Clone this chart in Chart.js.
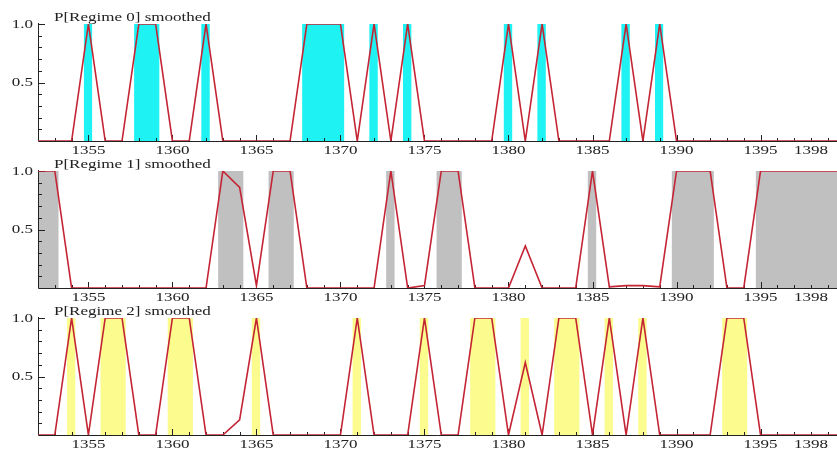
<!DOCTYPE html>
<html>
<head>
<meta charset="utf-8">
<script src="https://cdn.jsdelivr.net/npm/chart.js@4.4.1/dist/chart.umd.min.js"></script>
<style>
  html, body { margin: 0; padding: 0; background: #ffffff; }
  #wrap { position: relative; width: 837px; height: 451px; overflow: hidden; }
  #wrap canvas { position: absolute; left: 0; }
</style>
</head>
<body>
<div id="wrap">
  <canvas id="panel0" width="837" height="158" style="top:0px"></canvas>
  <canvas id="panel1" width="837" height="158" style="top:147px"></canvas>
  <canvas id="panel2" width="837" height="158" style="top:294px"></canvas>
</div>
<script>
// Probabilidades suavizadas de cada régimen, leídas año por año
const years = [1352, 1353, 1354, 1355, 1356, 1357, 1358, 1359, 1360, 1361,
               1362, 1363, 1364, 1365, 1366, 1367, 1368, 1369, 1370, 1371,
               1372, 1373, 1374, 1375, 1376, 1377, 1378, 1379, 1380, 1381,
               1382, 1383, 1384, 1385, 1386, 1387, 1388, 1389, 1390, 1391,
               1392, 1393, 1394, 1395, 1396, 1397, 1398, 1399, 1400];

const regime0 = [0, 0, 0, 1, 0, 0, 1, 1, 0, 0,
                 1, 0, 0, 0, 0, 0, 1, 1, 1, 0,
                 1, 0, 1, 0, 0, 0, 0, 0, 1, 0,
                 1, 0, 0, 0, 0, 1, 0, 1, 0, 0,
                 0, 0, 0, 0, 0, 0, 0, 0, 0];

const regime1 = [1, 1, 0, 0, 0, 0, 0, 0, 0, 0,
                 0, 1, 0.86, 0.02, 1, 1, 0, 0, 0, 0,
                 0, 1, 0, 0.02, 1, 1, 0, 0, 0, 0.36,
                 0, 0, 0, 1, 0.01, 0.02, 0.02, 0.01, 1, 1,
                 1, 0, 0, 1, 1, 1, 1, 1, 1];

const regime2 = [0, 0, 1, 0, 1, 1, 0, 0, 1, 1,
                 0, 0, 0.13, 1, 0, 0, 0, 0, 0, 1,
                 0, 0, 0, 1, 0, 0, 1, 1, 0, 0.62,
                 0, 1, 1, 0, 1, 0, 1, 0, 0, 0,
                 0, 1, 1, 0, 0, 0, 0, 0, 0];

const xTickLabels = [1355, 1360, 1365, 1370, 1375, 1380, 1385, 1390, 1395, 1398];
const yTickLabels = [0.5, 1.0];
const panelTitles = ['P[Regime 0] smoothed', 'P[Regime 1] smoothed', 'P[Regime 2] smoothed'];

const regimes = [regime0, regime1, regime2];
const shadeColors = ['#1ff2f2', '#c0c0c0', '#fbfb8e'];
const lineColor = '#c42434';
const inkColor = '#222222';
const FONT = '13.5px "Liberation Serif", "DejaVu Serif", serif';
const STRETCH = 1.26;   // las letras del original salen estiradas en horizontal

// Franja sombreada: alrededor de cada año en que el régimen es el más probable
const SHADE_BEFORE = 0.28;
const SHADE_AFTER = 0.22;

function isDominant(r, i) {
    const v = regimes[r][i];
    return regimes.every((arr, k) => k === r || arr[i] < v);
}

function shadePoints(r) {
    const pts = [];
    let runStart = null;
    for (let i = 0; i < years.length; i++) {
        const dom = isDominant(r, i);
        if (dom && runStart === null) runStart = years[i];
        const closes = runStart !== null && (!dom || i === years.length - 1);
        if (closes) {
            const runEnd = dom ? years[i] : years[i - 1];
            pts.push({x: runStart - SHADE_BEFORE, y: 0});
            pts.push({x: runStart - SHADE_BEFORE, y: 1});
            pts.push({x: runEnd + SHADE_AFTER, y: 1});
            pts.push({x: runEnd + SHADE_AFTER, y: 0});
            runStart = null;
        }
    }
    return pts;
}

function stretchedText(ctx, text, x, y, align) {
    ctx.save();
    ctx.translate(x, y);
    ctx.scale(STRETCH, 1);
    ctx.textAlign = align;
    ctx.fillText(text, 0, 0);
    ctx.restore();
}

// Ejes, marcas y textos al estilo del original (marcas hacia dentro)
const frameTicks = {
    id: 'frameTicks',
    beforeDatasetDraw(chart, args) {
        if (args.index !== 0) return;
        const {ctx, chartArea: {left, right, top, bottom}, scales: {x, y}} = chart;
        ctx.save();
        ctx.strokeStyle = inkColor;
        ctx.lineWidth = 1;
        ctx.beginPath();
        ctx.moveTo(left + 0.5, top - 1);
        ctx.lineTo(left + 0.5, bottom + 0.5);
        ctx.lineTo(right, bottom + 0.5);
        // marcas del eje y cada 0.1
        for (let k = 1; k <= 10; k++) {
            const py = Math.round(y.getPixelForValue(k / 10)) + 0.5;
            const len = (k === 5 || k === 10) ? 7 : 4;
            ctx.moveTo(left, py);
            ctx.lineTo(left + len, py);
        }
        // marcas del eje x cada año
        for (let yr = Math.ceil(x.min); yr <= x.max; yr++) {
            const px = Math.round(x.getPixelForValue(yr)) + 0.5;
            const len = (yr % 5 === 0) ? 6 : 3;
            ctx.moveTo(px, bottom);
            ctx.lineTo(px, bottom - len);
        }
        ctx.stroke();
        ctx.restore();
    },
    afterDraw(chart, args, opts) {
        const {ctx, chartArea: {left, top, bottom}, scales: {x, y}} = chart;
        ctx.save();
        ctx.fillStyle = inkColor;
        ctx.font = FONT;
        ctx.textBaseline = 'middle';
        xTickLabels.forEach(v => {
            stretchedText(ctx, String(v), x.getPixelForValue(v), bottom + 9, 'center');
        });
        yTickLabels.forEach(v => {
            stretchedText(ctx, v.toFixed(1), left - 5, y.getPixelForValue(v), 'right');
        });
        ctx.textBaseline = 'alphabetic';
        stretchedText(ctx, opts.title, left + 16, top - 3.5, 'left');
        ctx.restore();
    }
};

function createPanel(r) {
    const canvas = document.getElementById('panel' + r);
    const probs = regimes[r];
    return new Chart(canvas, {
        type: 'line',
        data: {
            datasets: [
                {
                    data: years.map((yr, i) => ({x: yr, y: probs[i]})),
                    borderColor: lineColor,
                    borderWidth: 1.6,
                    pointRadius: 0,
                    tension: 0,
                    fill: false,
                    order: 0
                },
                {
                    data: shadePoints(r),
                    borderWidth: 0,
                    borderColor: 'rgba(0,0,0,0)',
                    backgroundColor: shadeColors[r],
                    pointRadius: 0,
                    tension: 0,
                    fill: 'origin',
                    order: 1
                }
            ]
        },
        options: {
            responsive: false,
            animation: false,
            devicePixelRatio: 1,
            layout: { padding: { left: 38, right: 0, top: 24, bottom: 17 } },
            plugins: {
                legend: { display: false },
                tooltip: { enabled: false },
                frameTicks: { title: panelTitles[r] }
            },
            scales: {
                x: { type: 'linear', min: 1352, max: 1399.55, display: false },
                y: { type: 'linear', min: 0, max: 1, display: false }
            }
        },
        plugins: [frameTicks]
    });
}

document.addEventListener('DOMContentLoaded', function() {
    for (let r = 0; r < 3; r++) createPanel(r);
});
</script>
</body>
</html>
